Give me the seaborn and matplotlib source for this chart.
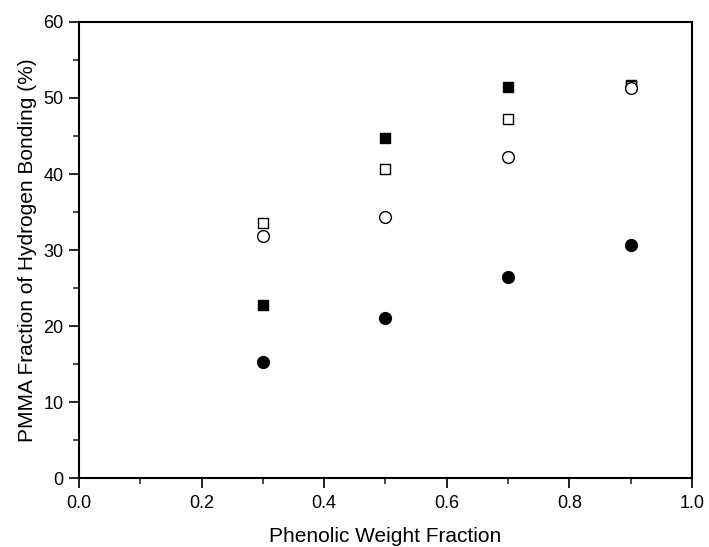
import pandas as pd
import seaborn as sns
import matplotlib.pyplot as plt
from matplotlib.ticker import MultipleLocator

# data
weight_fraction = [0.3, 0.5, 0.7, 0.9]
filled_square = [22.7, 44.8, 51.4, 51.7]
open_square = [33.6, 40.7, 47.2, 51.6]
open_circle = [31.8, 34.4, 42.3, 51.3]
filled_circle = [15.2, 21.1, 26.5, 30.7]

series = [
    ('filled_square', filled_square, 's', 'black'),
    ('open_square', open_square, 's', 'white'),
    ('open_circle', open_circle, 'o', 'white'),
    ('filled_circle', filled_circle, 'o', 'black'),
]

sns.set_theme(style='white')
plt.rcParams['font.family'] = ['Liberation Sans', 'DejaVu Sans']

fig = plt.figure(figsize=(7.09, 5.47), dpi=100)
ax = fig.add_axes([0.1114, 0.1261, 0.8646, 0.8337])

for name, vals, marker, face in series:
    df = pd.DataFrame({'x': weight_fraction, 'y': vals})
    size = 62 if marker == 's' else 72
    sns.scatterplot(data=df, x='x', y='y', marker=marker, s=size,
                    color=face, edgecolor='black', linewidth=1.0, ax=ax,
                    zorder=3)

ax.set_xlim(0, 1.0)
ax.set_ylim(0, 60)
ax.xaxis.set_major_locator(MultipleLocator(0.2))
ax.xaxis.set_minor_locator(MultipleLocator(0.1))
ax.yaxis.set_major_locator(MultipleLocator(10))
ax.yaxis.set_minor_locator(MultipleLocator(5))
ax.tick_params(which='major', direction='out', length=7, width=1.2,
               labelsize=13, color='black', labelcolor='black', pad=4,
               bottom=True, left=True, top=False, right=False)
ax.tick_params(which='minor', direction='out', length=4, width=1.2,
               bottom=True, left=True, top=False, right=False)
ax.tick_params(axis='x', which='major', pad=5)
ax.set_xticks([0.0, 0.2, 0.4, 0.6, 0.8, 1.0])
ax.set_xticklabels(['0.0', '0.2', '0.4', '0.6', '0.8', '1.0'])
for sp in ax.spines.values():
    sp.set_color('black')
    sp.set_linewidth(1.5)

ax.set_xlabel('Phenolic Weight Fraction', fontsize=15, color='black', labelpad=11)
ax.set_ylabel('PMMA Fraction of Hydrogen Bonding (%)', fontsize=15, color='black', labelpad=5)

fig.savefig('out.png', dpi=100)
